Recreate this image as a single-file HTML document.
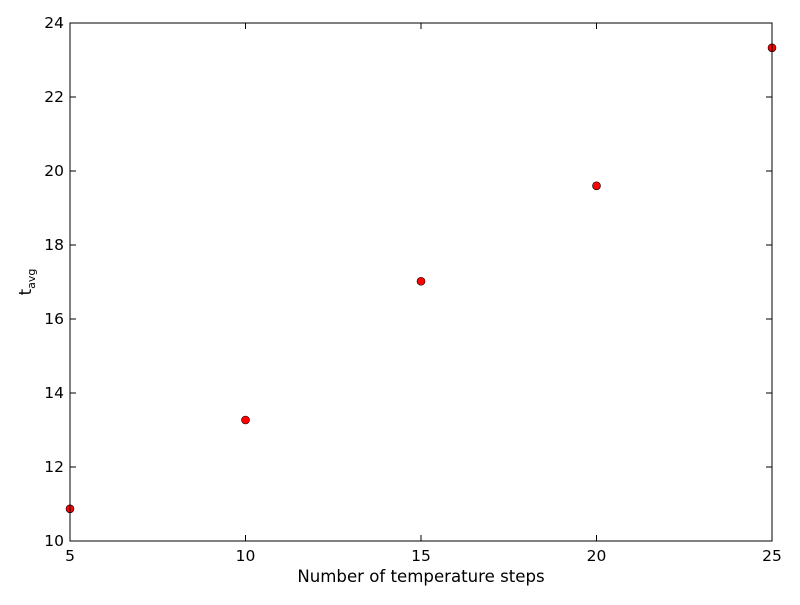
<!DOCTYPE html>
<html><head><meta charset="utf-8"><style>
body{margin:0;background:#fff;}
svg text{font-family:"DejaVu Sans","Liberation Sans",sans-serif;}
</style></head><body>
<svg id="chart" width="800" height="600" viewBox="0 0 800 600">
<rect width="800" height="600" fill="#fff"/>
<g id="ticks"></g>
<g id="points"></g>
<rect x="70" y="23" width="702" height="518" fill="none" stroke="#000" stroke-width="1"/>
<text x="421" y="582" font-size="16.6" text-anchor="middle">Number of temperature steps</text>
<text transform="translate(31,282) rotate(-90)" font-size="16.6" text-anchor="middle">t<tspan font-size="11" dy="4">avg</tspan></text>
</svg>
<script>
const xValues=[5,10,15,20,25];
const yValues=[10.87,13.27,17.02,19.6,23.33];
const xTicks=[5,10,15,20,25];
const yTicks=[10,12,14,16,18,20,22,24];
const X0=70,X1=772,Y0=541,Y1=23;
const xs=v=>X0+(v-5)/(25-5)*(X1-X0);
const ys=v=>Y0-(v-10)/(24-10)*(Y0-Y1);
const NS="http://www.w3.org/2000/svg";
const tg=document.getElementById('ticks'),pg=document.getElementById('points');
function mk(tag,attrs,parent){const e=document.createElementNS(NS,tag);for(const k in attrs)e.setAttribute(k,attrs[k]);parent.appendChild(e);return e;}
xTicks.forEach(t=>{const x=xs(t);
mk('line',{x1:x,x2:x,y1:Y0,y2:Y0-6,stroke:'#000'},tg);
mk('line',{x1:x,x2:x,y1:Y1,y2:Y1+6,stroke:'#000'},tg);
const tx=mk('text',{x:x,y:Y0+20,'font-size':15.5,'text-anchor':'middle'},tg);tx.textContent=t;


});
yTicks.forEach(t=>{const y=ys(t);
mk('line',{x1:X0,x2:X0+6,y1:y,y2:y,stroke:'#000'},tg);
mk('line',{x1:X1,x2:X1-6,y1:y,y2:y,stroke:'#000'},tg);
const tx=mk('text',{x:X0-6,y:y+5,'font-size':15.5,'text-anchor':'end'},tg);tx.textContent=t;


});
xValues.forEach((v,i)=>{
const c=mk('circle',{cx:xs(v),cy:ys(yValues[i]),r:4,fill:'#ff0000',stroke:'#000','stroke-width':0.6},pg);


});
</script>
</body></html>
